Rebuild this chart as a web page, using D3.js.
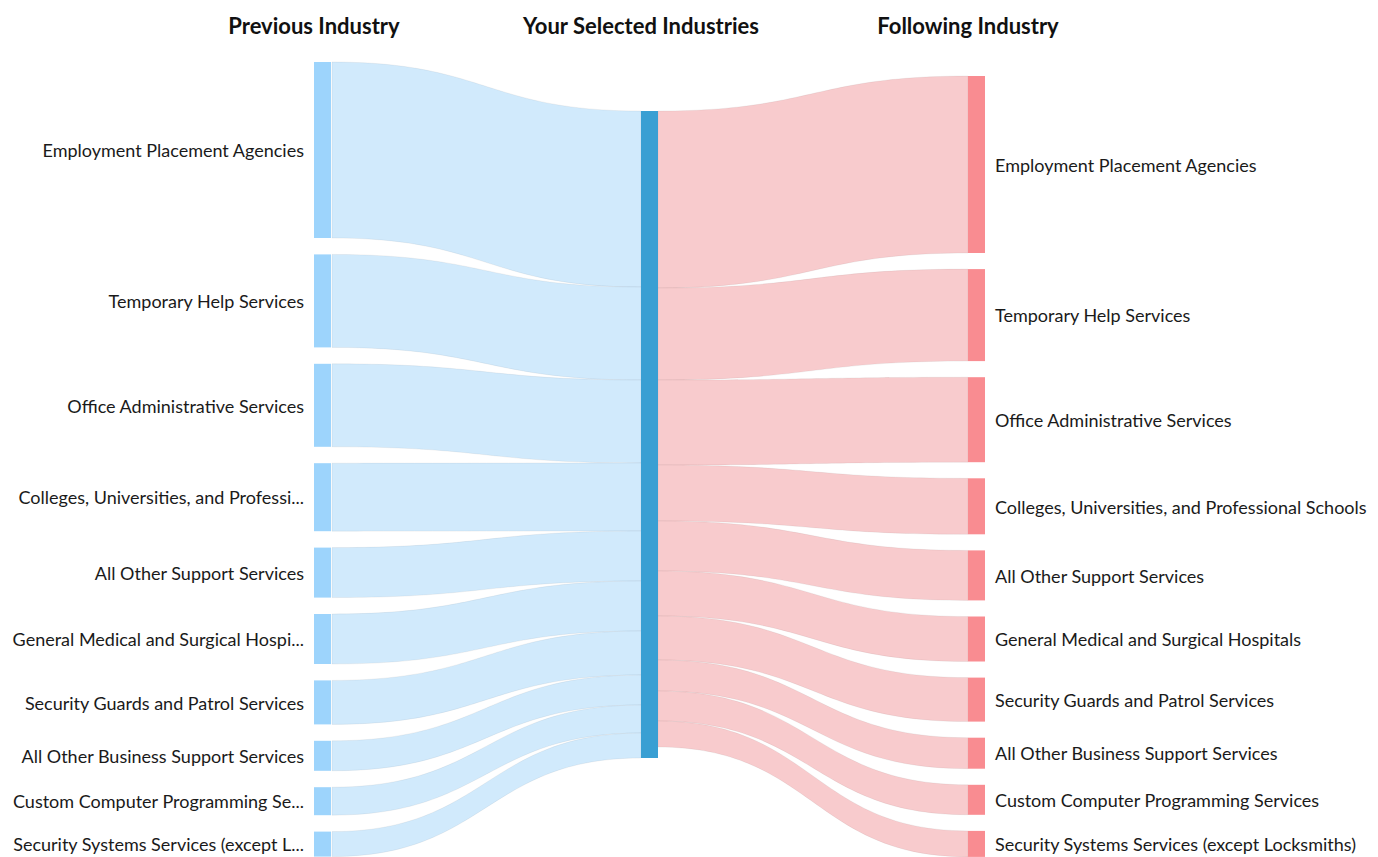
<!DOCTYPE html>
<html>
<head>
<meta charset="utf-8">
<script src="https://cdn.jsdelivr.net/npm/d3@7"></script>
<style>
  html, body { margin: 0; padding: 0; background: #fff; }
  svg { display: block; font-family: Lato, "Open Sans", sans-serif; }
</style>
</head>
<body>
<svg id="chart" width="1378" height="857"></svg>
<script>
// ---- data ----
const headers = ["Previous Industry", "Your Selected Industries", "Following Industry"];
const selectedNode = "Your Selected Industries";
const previousIndustries = [
  "Employment Placement Agencies",
  "Temporary Help Services",
  "Office Administrative Services",
  "Colleges, Universities, and Professional Schools",
  "All Other Support Services",
  "General Medical and Surgical Hospitals",
  "Security Guards and Patrol Services",
  "All Other Business Support Services",
  "Custom Computer Programming Services",
  "Security Systems Services (except Locksmiths)"
];
const previousValues = [176, 93, 83, 68, 50, 50, 44, 30, 28, 25];
const followingIndustries = [
  "Employment Placement Agencies",
  "Temporary Help Services",
  "Office Administrative Services",
  "Colleges, Universities, and Professional Schools",
  "All Other Support Services",
  "General Medical and Surgical Hospitals",
  "Security Guards and Patrol Services",
  "All Other Business Support Services",
  "Custom Computer Programming Services",
  "Security Systems Services (except Locksmiths)"
];
const followingValues = [177, 92, 85, 56, 50, 45, 44, 31, 30, 26];

// ---- layout ----
const svg = d3.select("#chart");
const nodeW = 17;
const colX = d3.scalePoint().domain([0, 1, 2]).range([314, 968]);
const leftTop = 62, rightTop = 76, centerTop = 111;
const leftPad = 16.4, rightPad = 16.1;
const ky = d3.scaleLinear().domain([0, 1]).range([0, 1]); // value -> px

function stack(values, top, pad) {
  let y = top;
  return values.map(v => {
    const h = ky(v);
    const n = { y0: y, y1: y + h, v };
    y += h + pad;
    return n;
  });
}
const leftNodes = stack(previousValues, leftTop, leftPad).map((n, i) => ({ ...n, name: previousIndustries[i] }));
const rightNodes = stack(followingValues, rightTop, rightPad).map((n, i) => ({ ...n, name: followingIndustries[i] }));
const centerTotal = d3.sum(previousValues);
const centerNode = { y0: centerTop, y1: centerTop + ky(centerTotal) };

// link ends on the center node
let cy = centerTop;
const leftLinks = leftNodes.map(n => {
  const h = ky(n.v);
  const l = { sx: colX(0) + nodeW + 1, sy0: n.y0, sy1: n.y1, tx: colX(1), ty0: cy, ty1: cy + h };
  cy += h;
  return l;
});
cy = centerTop;
const rightLinks = rightNodes.map(n => {
  const h = ky(n.v);
  const l = { sx: colX(1) + nodeW, sy0: cy, sy1: cy + h, tx: colX(2), ty0: n.y0, ty1: n.y1 };
  cy += h;
  return l;
});

function ribbon(l) {
  const xm = (l.sx + l.tx) / 2;
  const p = d3.path();
  p.moveTo(l.sx, l.sy0);
  p.bezierCurveTo(xm, l.sy0, xm, l.ty0, l.tx, l.ty0);
  p.lineTo(l.tx, l.ty1);
  p.bezierCurveTo(xm, l.ty1, xm, l.sy1, l.sx, l.sy1);
  p.closePath();
  return p.toString();
}

svg.append("g").selectAll("path").data(leftLinks).join("path")
  .attr("d", ribbon).attr("fill", "#d1eafc")
  .attr("stroke", "#000").attr("stroke-opacity", 0.05).attr("stroke-width", 1);
svg.append("g").selectAll("path").data(rightLinks).join("path")
  .attr("d", ribbon).attr("fill", "#f8cbcd")
  .attr("stroke", "#000").attr("stroke-opacity", 0.05).attr("stroke-width", 1);

// nodes
svg.append("g").selectAll("rect").data(leftNodes).join("rect")
  .attr("x", colX(0)).attr("width", nodeW)
  .attr("y", d => d.y0).attr("height", d => d.y1 - d.y0)
  .attr("fill", "#9dd4fc");
svg.append("rect")
  .attr("x", colX(1)).attr("width", nodeW)
  .attr("y", centerNode.y0).attr("height", centerNode.y1 - centerNode.y0)
  .attr("fill", "#399fd3");
svg.append("g").selectAll("rect").data(rightNodes).join("rect")
  .attr("x", colX(2)).attr("width", nodeW)
  .attr("y", d => d.y0).attr("height", d => d.y1 - d.y0)
  .attr("fill", "#f98c91");

// labels
const maxLabelW = 292;
function truncate(sel) {
  sel.each(function(d) {
    const t = d3.select(this);
    let s = d.name;
    t.text(s);
    if (this.getComputedTextLength() <= maxLabelW) return;
    while (s.length > 0) {
      s = s.slice(0, -1);
      t.text(s.trimEnd() + "...");
      if (this.getComputedTextLength() <= maxLabelW) break;
    }
  });
}
svg.append("g").selectAll("text").data(leftNodes).join("text")
  .attr("x", colX(0) - 10).attr("y", d => (d.y0 + d.y1) / 2)
  .attr("dy", "0.4em").attr("text-anchor", "end")
  .attr("font-size", 18).attr("fill", "#1a1a1a")
  .call(truncate);
svg.append("g").selectAll("text").data(rightNodes).join("text")
  .attr("x", colX(2) + nodeW + 10).attr("y", d => (d.y0 + d.y1) / 2)
  .attr("dy", "0.4em").attr("text-anchor", "start")
  .attr("font-size", 18).attr("fill", "#1a1a1a")
  .text(d => d.name);

// headers
svg.append("g").selectAll("text").data(headers).join("text")
  .attr("x", (d, i) => colX(i)).attr("y", 26).attr("dy", "0.35em")
  .attr("text-anchor", "middle")
  .attr("font-size", 22).attr("font-weight", "bold").attr("fill", "#111")
  .text(d => d);
</script>
</body>
</html>
